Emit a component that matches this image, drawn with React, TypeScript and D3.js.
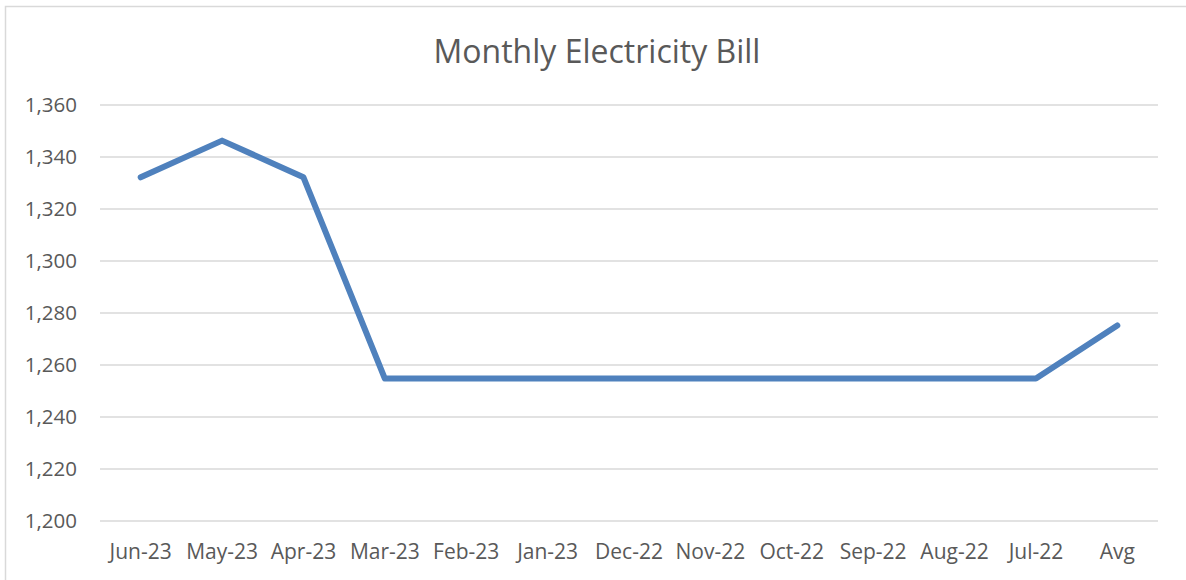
import React, { useRef, useEffect } from 'react';
import * as d3 from 'd3';

const months = ['Jun-23', 'May-23', 'Apr-23', 'Mar-23', 'Feb-23', 'Jan-23', 'Dec-22', 'Nov-22', 'Oct-22', 'Sep-22', 'Aug-22', 'Jul-22', 'Avg'];
const bills = [1332.2, 1346.3, 1332.2, 1254.8, 1254.8, 1254.8, 1254.8, 1254.8, 1254.8, 1254.8, 1254.8, 1254.8, 1275.2];
const yTicks = [1200, 1220, 1240, 1260, 1280, 1300, 1320, 1340, 1360];

const width = 1186;
const height = 580;

const App: React.FC = () => {
  const ref = useRef<SVGSVGElement>(null);

  useEffect(() => {
    const svg = d3.select(ref.current);
    svg.selectAll('*').remove();

    const margin = { top: 105, right: 28, bottom: 59, left: 100 };
    const plotW = width - margin.left - margin.right;
    const plotH = height - margin.top - margin.bottom;
    const font = '"Open Sans", sans-serif';

    // chart border
    svg.append('rect')
      .attr('x', 5.5).attr('y', 6.5)
      .attr('width', width + 10).attr('height', height + 10)
      .attr('fill', 'white').attr('stroke', '#d9d9d9').attr('stroke-width', 1.5);

    svg.append('text')
      .attr('x', 597).attr('y', 63)
      .attr('text-anchor', 'middle')
      .attr('font-family', font).attr('font-size', 32)
      .attr('fill', '#595959')
      .text('Monthly Electricity Bill');

    const g = svg.append('g').attr('transform', `translate(${margin.left},${margin.top})`);

    const x = d3.scalePoint<string>().domain(months).range([0, plotW]).padding(0.5);
    const y = d3.scaleLinear().domain([1200, 1360]).range([plotH, 0]);

    // gridlines
    g.selectAll('line.grid').data(yTicks).join('line')
      .attr('class', 'grid')
      .attr('x1', 0).attr('x2', plotW)
      .attr('y1', d => y(d)).attr('y2', d => y(d))
      .attr('stroke', '#d9d9d9').attr('stroke-width', 1.5);

    // y labels
    g.selectAll('text.ylab').data(yTicks).join('text')
      .attr('class', 'ylab')
      .attr('x', -23).attr('y', d => y(d))
      .attr('dy', '0.36em')
      .attr('text-anchor', 'end')
      .attr('font-family', font).attr('font-size', 20.5)
      .attr('fill', '#595959')
      .text(d => d3.format(',')(d));

    // x labels
    g.selectAll('text.xlab').data(months).join('text')
      .attr('class', 'xlab')
      .attr('x', d => x(d) as number).attr('y', plotH + 38)
      .attr('text-anchor', 'middle')
      .attr('font-family', font).attr('font-size', 21)
      .attr('fill', '#595959')
      .text(d => d);

    const line = d3.line<number>()
      .x((_, i) => x(months[i]) as number)
      .y(d => y(d));

    g.append('path')
      .datum(bills)
      .attr('fill', 'none')
      .attr('stroke', '#4f81bd')
      .attr('stroke-width', 6)
      .attr('stroke-linejoin', 'round')
      .attr('stroke-linecap', 'round')
      .attr('d', line);
  }, []);

  return (
    <svg ref={ref} width={width} height={height} style={{ position: 'fixed', left: 0, top: 0, background: 'white' }} />
  );
};

export default App;
